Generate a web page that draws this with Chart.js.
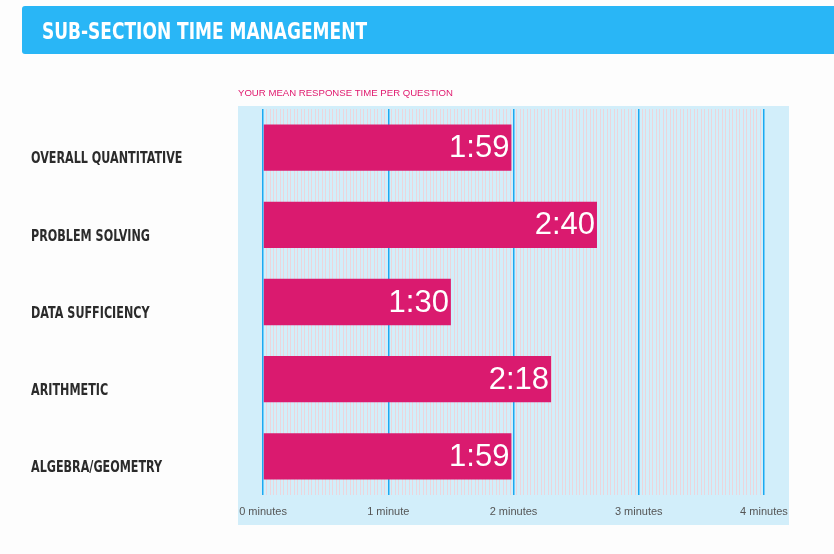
<!DOCTYPE html>
<html>
<head>
<meta charset="utf-8">
<script src="https://cdn.jsdelivr.net/npm/chart.js@4/dist/chart.umd.min.js"></script>
<style>
	body { margin: 0; background: #fdfdfd; width: 834px; height: 554px; overflow: hidden; position: relative; }
	#cabecera {
		position: absolute; left: 22px; top: 6px; width: 830px; height: 48px;
		background: #29b6f6; border-radius: 3px; box-sizing: border-box; padding-left: 20px;
	}
	#cabecera span {
		display: inline-block; transform: scaleX(0.74); transform-origin: left center;
		font-family: "DejaVu Sans", "Liberation Sans", sans-serif;
		font-weight: bold; font-size: 23px; color: #fff; line-height: 50px; white-space: nowrap;
	}
	#contenedor { position: absolute; left: 0; top: 0; width: 834px; height: 554px; }
</style>
</head>
<body>
<div id="contenedor"><canvas id="graficaTiempos"></canvas></div>
<div id="cabecera"><span>SUB-SECTION TIME MANAGEMENT</span></div>
<script>
// Datos de la grafica (segundos por pregunta)
const categorias = ['OVERALL QUANTITATIVE', 'PROBLEM SOLVING', 'DATA SUFFICIENCY', 'ARITHMETIC', 'ALGEBRA/GEOMETRY'];
const segundos = [119, 160, 90, 138, 119];
const etiquetasValor = ['1:59', '2:40', '1:30', '2:18', '1:59'];
const etiquetasEje = ['0 minutes', '1 minute', '2 minutes', '3 minutes', '4 minutes'];
const subtitulo = 'YOUR MEAN RESPONSE TIME PER QUESTION';

const LINEAS_POR_MINUTO = 36;

// Fondo azul claro, subtitulo y nombres de categorias
const fondoPlugin = {
	id: 'fondo',
	beforeDraw(chart){
		const a = chart.chartArea;
		const ctx = chart.ctx;
		ctx.save();
		ctx.fillStyle = '#d2eefa';
		ctx.fillRect(a.left, a.top - 3, a.right - a.left, chart.scales.x.bottom - a.top + 3);
		ctx.restore();
	},
	afterDraw(chart){
		const ctx = chart.ctx;
		const y = chart.scales.y;
		ctx.save();
		ctx.font = '9.6px "Liberation Sans", Arial, sans-serif';
		ctx.fillStyle = '#e0196e';
		ctx.textBaseline = 'middle';
		ctx.fillText(subtitulo, chart.chartArea.left, 93);

		// Nombres de categorias, letra condensada
		ctx.font = 'bold 15px "DejaVu Sans", "Liberation Sans", sans-serif';
		ctx.fillStyle = '#2b2b2b';
		categorias.forEach(function(nombre, i){
			ctx.save();
			ctx.translate(31, y.getPixelForValue(i) + 12);
			ctx.scale(0.745, 1);
			ctx.fillText(nombre, 0, 0);
			ctx.restore();
		});
		ctx.restore();
	}
};

// Valores dentro de cada barra
const valoresPlugin = {
	id: 'valores',
	afterDatasetsDraw(chart){
		const ctx = chart.ctx;
		const meta = chart.getDatasetMeta(0);
		ctx.save();
		ctx.font = '31px "Liberation Sans", Arial, sans-serif';
		ctx.fillStyle = '#ffffff';
		ctx.textAlign = 'right';
		ctx.textBaseline = 'middle';
		meta.data.forEach(function(barra, i){
			ctx.fillText(etiquetasValor[i], barra.x - 2, barra.y + 1);
		});
		ctx.restore();
	}
};

const ctx = document.getElementById('graficaTiempos').getContext('2d');
new Chart(ctx, {
	type: 'bar',
	data: {
		labels: categorias,
		datasets: [{
			data: segundos,
			backgroundColor: '#da1a6f',
			barPercentage: 0.6,
			categoryPercentage: 1
		}]
	},
	options: {
		indexAxis: 'y',
		responsive: true,
		maintainAspectRatio: false,
		animation: false,
		layout: { padding: { left: 31, top: 109, right: 45, bottom: 29 } },
		plugins: { legend: { display: false }, tooltip: { enabled: false } },
		scales: {
			x: {
				type: 'linear',
				min: -12,
				max: 252,
				afterBuildTicks(scale){
					let t = [];
					for(let i = 0; i <= 4 * LINEAS_POR_MINUTO; i++){
						t.push({ value: i * 60 / LINEAS_POR_MINUTO });
					}
					scale.ticks = t;
				},
				afterFit(scale){ scale.height = 30; },
				border: { display: false },
				grid: {
					drawTicks: false,
					color: function(c){ return c.index % LINEAS_POR_MINUTO === 0 ? '#1ba9f2' : '#ecd5dc'; },
					lineWidth: function(c){ return c.index % LINEAS_POR_MINUTO === 0 ? 1.5 : 1; }
				},
				ticks: {
					autoSkip: false,
					maxRotation: 0,
					padding: 10,
					color: '#555',
					font: { family: '"Liberation Sans", Arial, sans-serif', size: 11 },
					callback: function(v, i){ return i % LINEAS_POR_MINUTO === 0 ? etiquetasEje[i / LINEAS_POR_MINUTO] : ''; }
				}
			},
			y: {
				afterFit(scale){ scale.width = 207; },
				border: { display: false },
				grid: { display: false },
				ticks: { display: false }
			}
		}
	},
	plugins: [fondoPlugin, valoresPlugin]
});
</script>
</body>
</html>
